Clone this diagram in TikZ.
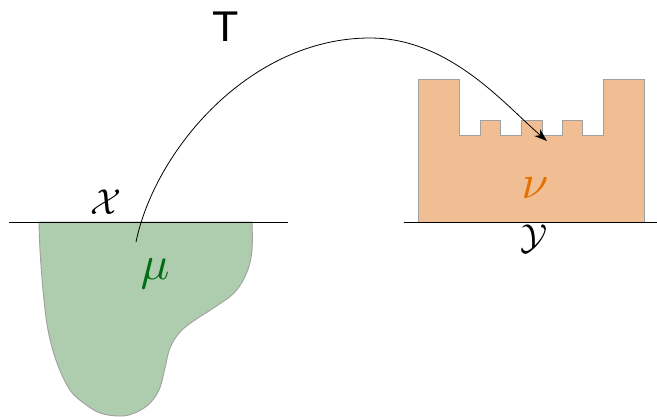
\documentclass[tikz,border=0pt]{standalone}
\usepackage{fontspec}
\newfontfamily\sansT{Liberation Sans}
\usetikzlibrary{arrows.meta}
\definecolor{greenfill}{RGB}{174,205,174}
\definecolor{orangefill}{RGB}{240,190,146}
\definecolor{mucol}{RGB}{0,110,20}
\definecolor{nucol}{RGB}{228,112,0}
\definecolor{edgegray}{RGB}{160,160,160}
\tikzset{
  region/.style={draw=edgegray, line width=0.9pt},
  baseline/.style={draw=black, line width=0.9pt},
  mapping/.style={draw=black, line width=0.8pt, -{Stealth[length=13pt,width=9pt]}},
  callabel/.style={inner sep=0pt, scale=3.6},
  greeklabel/.style={inner sep=0pt, scale=4.8},
}
\begin{document}
\begin{tikzpicture}[x=1pt,y=-1pt]
\useasboundingbox (0,0) rectangle (657,416);
% source measure
\path[region, fill=greenfill] (252,222) -- plot[smooth, tension=0.6] coordinates {(252,222) (252,250) (247,272) (235,292) (215,307) (195,320) (180,332) (170,348) (165,368) (159,390) (148,405) (132,414) (118,416) (100,413) (85,404) (70,390) (57,363) (48,330) (43,290) (40,250) (39,222)} -- cycle;
% target measure (castle)
\path[region, fill=orangefill] (418,222) -- (418,79) -- (459,79) -- (459,135) -- (480,135) -- (480,120) -- (500,120) -- (500,135) -- (521,135) -- (521,120) -- (542,120) -- (542,135) -- (562,135) -- (562,120) -- (582,120) -- (582,135) -- (603,135) -- (603,79) -- (644,79) -- (644,222) -- cycle;
% base lines
\coordinate (xl) at (9,222);
\coordinate (xr) at (288,222);
\coordinate (yl) at (404,222);
\coordinate (yr) at (657,222);
\draw[baseline] (xl) -- (xr);
\draw[baseline] (yl) -- (yr);
% labels
\node[callabel] (X) at (106,202) {$\mathcal{X}$};
\node[callabel] (Y) at (534,239) {$\mathcal{Y}$};
\node[greeklabel, text=mucol] (mu) at (155,274) {$\mu$};
\node[greeklabel, text=nucol] (nu) at (535,188) {$\nu$};
\node[inner sep=0pt, font=\sansT\fontsize{43}{46}\selectfont] (T) at (226,27) {T};
% transport map
\coordinate (src) at (136,242);
\coordinate (top) at (370,38);
\coordinate (dst) at (547,141);
\draw[mapping] (src) .. controls (155,150) and (250,38) .. (top) .. controls (450,38) and (505,105) .. (dst);
\end{tikzpicture}
\end{document}
